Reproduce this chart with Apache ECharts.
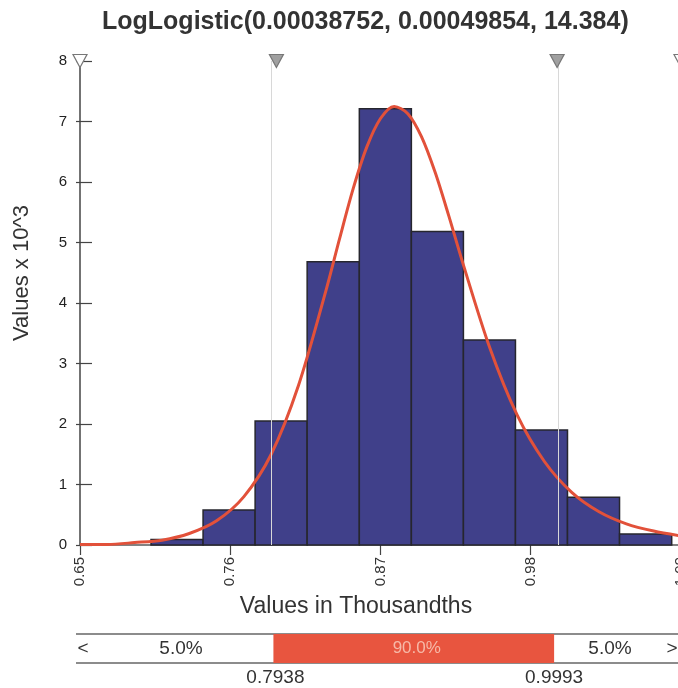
<!DOCTYPE html>
<html><head><meta charset="utf-8">
<script src="https://cdn.jsdelivr.net/npm/echarts@6/dist/echarts.min.js"></script>
<style>html,body{margin:0;padding:0;background:#fff}#c{width:678px;height:688px}</style>
</head><body><div id="c"></div>
<script>
// ---- data ----
const titleText = 'LogLogistic(0.00038752, 0.00049854, 14.384)';
const binStarts  = [0.7020, 0.7401, 0.7782, 0.8163, 0.8545, 0.8926, 0.9307, 0.9688, 1.0069, 1.0450];
const binEnds    = [0.7401, 0.7782, 0.8163, 0.8545, 0.8926, 0.9307, 0.9688, 1.0069, 1.0450, 1.0832];
const binHeights = [0.09, 0.58, 2.05, 4.68, 7.21, 5.18, 3.39, 1.90, 0.79, 0.18];
const curveX = [0.65, 0.67, 0.69, 0.71, 0.73, 0.75, 0.77, 0.79, 0.81, 0.83, 0.84, 0.85, 0.86, 0.87, 0.88, 0.89, 0.90, 0.91, 0.92, 0.93, 0.95, 0.97, 0.99, 1.01, 1.03, 1.05, 1.07, 1.09];
const curveY = [0.01, 0.01, 0.04, 0.08, 0.19, 0.40, 0.80, 1.50, 2.64, 4.20, 5.06, 5.89, 6.58, 7.05, 7.25, 7.13, 6.75, 6.16, 5.44, 4.68, 3.26, 2.15, 1.38, 0.87, 0.55, 0.35, 0.23, 0.15];
const xTicks = [0.65, 0.76, 0.87, 0.98, 1.09];
const yMin = 0, yMax = 8, yStep = 1;
const pctBounds = [0.7938, 0.9993];
const pctLabels = ['5.0%', '90.0%', '5.0%'];
const boundLabels = ['0.7938', '0.9993'];
const markerX = [0.65, 0.7938, 0.9993, 1.09];
const markerFilled = [false, true, true, false];
const xName = 'Values in Thousandths';
const yName = 'Values x 10^3';

const FONT = '"Liberation Sans", Arial, sans-serif';
const chart = echarts.init(document.getElementById('c'), null, {renderer: 'canvas'});

const bars = binStarts.map((s, i) => [s, binEnds[i], binHeights[i]]);
const curve = curveX.map((x, i) => [x, curveY[i]]);

chart.setOption({
  animation: false,
  backgroundColor: '#fff',
  textStyle: {fontFamily: FONT},
  title: {text: titleText, left: 97, top: 5,
    textStyle: {fontFamily: FONT, fontSize: 25, fontWeight: 'bold', color: '#333'}},
  grid: [
    {left: 80, top: 61, width: 601, height: 484, containLabel: false, outerBoundsMode: 'none'},
    {left: 80, top: 634, width: 601, height: 29, containLabel: false, outerBoundsMode: 'none'}
  ],
  xAxis: [
    {gridIndex: 0, type: 'value', min: 0.65, max: 1.09, position: 'bottom',
      axisLine: {lineStyle: {color: '#444', width: 1.5}},
      axisTick: {customValues: xTicks, length: 10, lineStyle: {color: '#444', width: 1.2}},
      axisLabel: {customValues: xTicks, rotate: 90, margin: 12, fontSize: 15, color: '#333',
        formatter: v => Number(v).toFixed(2)},
      splitLine: {show: false}},
    {gridIndex: 0, type: 'value', min: 0.65, max: 1.09, position: 'top',
      axisLine: {lineStyle: {color: '#888', width: 1.5}},
      axisTick: {show: false}, axisLabel: {show: false}, splitLine: {show: false}},
    {gridIndex: 1, type: 'value', min: 0.65, max: 1.09, show: false}
  ],
  yAxis: [
    {gridIndex: 0, type: 'value', position: 'left', min: yMin, max: yMax, interval: yStep,
      axisLine: {show: true, lineStyle: {color: '#444', width: 1.5}},
      axisTick: {show: true, inside: true, length: 12, lineStyle: {color: '#444', width: 1.2}},
      axisLabel: {margin: 13, fontSize: 15, color: '#222'},
      splitLine: {show: false}},
    {gridIndex: 0, type: 'value', position: 'left', offset: 0, min: yMin, max: yMax, interval: yStep,
      axisLine: {show: false},
      axisTick: {show: true, inside: false, length: 4, lineStyle: {color: '#444', width: 1.2}},
      axisLabel: {show: false}, splitLine: {show: false}},
    {gridIndex: 1, type: 'value', min: 0, max: 1, show: false}
  ],
  series: [
    {type: 'custom', xAxisIndex: 0, yAxisIndex: 0, data: bars, encode: {x: [0, 1], y: 2},
      renderItem: (params, api) => {
        const p0 = api.coord([api.value(0), api.value(2)]);
        const p1 = api.coord([api.value(1), 0]);
        return {type: 'rect', shape: {x: p0[0], y: p0[1], width: p1[0] - p0[0], height: p1[1] - p0[1]},
          style: {fill: '#40408a', stroke: '#26262e', lineWidth: 1.5}};
      }, z: 2},
    {type: 'line', xAxisIndex: 0, yAxisIndex: 0, data: curve, smooth: 0.3, showSymbol: false,
      lineStyle: {color: '#e2513a', width: 3}, z: 3,
      markLine: {silent: true, symbol: 'none', label: {show: false},
        lineStyle: {color: '#d8d8d8', width: 1, type: 'solid'},
        data: pctBounds.map(v => ({xAxis: v}))},
      markPoint: {silent: true, symbol: 'triangle', symbolRotate: 180, symbolSize: [14, 13], label: {show: false},
        data: markerX.map((v, i) => ({coord: [v, yMax],
          itemStyle: {color: markerFilled[i] ? '#a0a0a0' : '#ffffff', borderColor: '#777', borderWidth: 1.2}}))}},
    {type: 'custom', xAxisIndex: 2, yAxisIndex: 2, data: [[pctBounds[0], pctBounds[1]]], encode: {x: [0, 1]},
      renderItem: (params, api) => {
        const a = api.coord([api.value(0), 1]);
        const b = api.coord([api.value(1), 0]);
        return {type: 'group', children: [
          {type: 'rect', shape: {x: a[0] - 3, y: a[1], width: b[0] - a[0], height: b[1] - a[1]},
            style: {fill: '#e8553f'}},
          {type: 'text', x: (a[0] + b[0]) / 2, y: (a[1] + b[1]) / 2,
            style: {text: pctLabels[1], fill: '#f6b9a8', font: '17px ' + FONT, align: 'center', verticalAlign: 'middle'}},
          {type: 'text', x: a[0] - 1, y: b[1] + 15,
            style: {text: boundLabels[0], fill: '#333', font: '19px ' + FONT, align: 'center', verticalAlign: 'middle'}},
          {type: 'text', x: b[0] - 3, y: b[1] + 15,
            style: {text: boundLabels[1], fill: '#333', font: '19px ' + FONT, align: 'center', verticalAlign: 'middle'}}
        ]};
      }}
  ],
  graphic: [
    {type: 'line', shape: {x1: 76, y1: 634, x2: 678, y2: 634}, style: {stroke: '#666', lineWidth: 1.5}},
    {type: 'line', shape: {x1: 76, y1: 663, x2: 678, y2: 663}, style: {stroke: '#666', lineWidth: 1.5}},
    {type: 'text', x: 83, y: 649, style: {text: '<', fill: '#333', font: '19px ' + FONT, align: 'center', verticalAlign: 'middle'}},
    {type: 'text', x: 181, y: 649, style: {text: pctLabels[0], fill: '#333', font: '19px ' + FONT, align: 'center', verticalAlign: 'middle'}},
    {type: 'text', x: 610, y: 649, style: {text: pctLabels[2], fill: '#333', font: '19px ' + FONT, align: 'center', verticalAlign: 'middle'}},
    {type: 'text', x: 672, y: 649, style: {text: '>', fill: '#333', font: '19px ' + FONT, align: 'center', verticalAlign: 'middle'}},
    {type: 'text', x: 356, y: 607, style: {text: xName, fill: '#333', font: '23px ' + FONT, align: 'center', verticalAlign: 'middle'}},
    {type: 'text', x: 22, y: 273, rotation: Math.PI / 2, style: {text: yName, fill: '#333', font: '22px ' + FONT, align: 'center', verticalAlign: 'middle'}}
  ]
});
</script></body></html>
